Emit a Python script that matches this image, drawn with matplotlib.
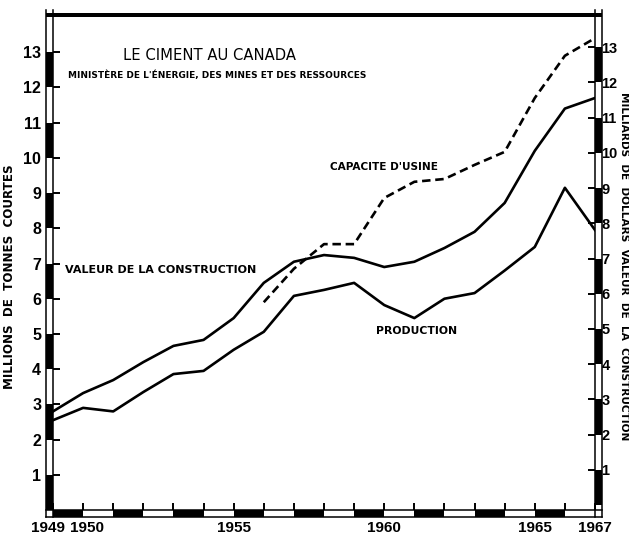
import matplotlib
matplotlib.use("Agg")
import matplotlib.pyplot as plt
import matplotlib.transforms as mtransforms
from matplotlib.patches import Rectangle

# Data
years = list(range(1949, 1968))
valeur_construction = [2.8, 3.32, 3.69, 4.2, 4.66, 4.83, 5.45, 6.45, 7.05, 7.24,
                       7.16, 6.9, 7.05, 7.44, 7.9, 8.72, 10.2, 11.4, 11.7]
production = [2.55, 2.9, 2.8, 3.35, 3.86, 3.95, 4.55, 5.06, 6.08, 6.25,
              6.45, 5.82, 5.45, 6.0, 6.16, 6.8, 7.47, 9.15, 7.95]
capacite_years = list(range(1956, 1968))
capacite = [5.9, 6.85, 7.55, 7.55, 8.86, 9.32, 9.4, 9.8, 10.17, 11.7, 12.9, 13.4]

xtick_years = [1949, 1950, 1955, 1960, 1965, 1967]
ytick_values = list(range(1, 14))

DIGITS = ["Liberation Sans", "DejaVu Sans"]
plt.rcParams["font.family"] = "DejaVu Sans"

fig = plt.figure(figsize=(6.29, 5.34), dpi=100)
ax = fig.add_axes([53 / 629, 24 / 534, 542 / 629, 493 / 534])
ax2 = ax.twinx()

ax.plot(years, valeur_construction, color="black", lw=1.9, solid_joinstyle="round")
ax.plot(years, production, color="black", lw=1.9, solid_joinstyle="round")
ax.plot(capacite_years, capacite, color="black", lw=1.9, dashes=(3.2, 1.8))

ax.set_xlim(1949, 1967)
ax.set_ylim(0, 14)
ax2.set_ylim(-0.14, 13.86)

for a in (ax, ax2):
    for s in a.spines.values():
        s.set_visible(False)

ax.set_xticks(xtick_years)
ax.set_xticklabels([str(y) for y in xtick_years], fontfamily=DIGITS, fontweight="bold", fontsize=11)
ax.set_xticks(years, minor=True)
ax.set_yticks(ytick_values)
ax.set_yticklabels([str(v) for v in ytick_values], fontfamily=DIGITS, fontweight="bold", fontsize=11.5)
ax2.set_yticks(ytick_values)
ax2.set_yticklabels([str(v) for v in ytick_values], fontfamily=DIGITS, fontweight="bold", fontsize=10.5)

ax.tick_params(axis="x", which="both", direction="in", length=5, width=1.4, pad=8, top=False)
ax.tick_params(axis="y", direction="in", length=5, width=1.4, pad=8.5)
ax2.tick_params(axis="y", direction="in", length=5, width=1.4, pad=4.5)

# squeeze the first two year labels apart
labs = ax.get_xticklabels()
labs[0].set_transform(labs[0].get_transform() + mtransforms.ScaledTranslation(-5 / 100, 0, fig.dpi_scale_trans))
labs[1].set_transform(labs[1].get_transform() + mtransforms.ScaledTranslation(4 / 100, 0, fig.dpi_scale_trans))

# checkered double-line frame
fw = 7 / 542   # frame width, axes fraction (x)
fh = 7 / 493   # frame height, axes fraction (y)
lw_f = 1.1

def vside(a, x0, x1, lo, hi):
    tr = mtransforms.blended_transform_factory(ax.transAxes, a.transData)
    for k in range(lo, hi):
        if k % 2 == 0:
            ax.add_patch(Rectangle((x0, k), x1 - x0, 1, transform=tr, color="black",
                                   clip_on=False, lw=0, zorder=5))
    tra = ax.transAxes
    for xx in (x0, x1):
        ax.plot([xx, xx], [-fh, 1 + fh], transform=tra, color="black", lw=lw_f, clip_on=False, zorder=5)

vside(ax, -fw, 0, 0, 13)
vside(ax2, 1, 1 + fw, -1, 13)

trx = mtransforms.blended_transform_factory(ax.transData, ax.transAxes)
for k in range(1949, 1967):
    if (k - 1949) % 2 == 0:
        ax.add_patch(Rectangle((k, -fh), 1, fh, transform=trx, color="black",
                               clip_on=False, lw=0, zorder=5))
for yy in (-fh, 0):
    ax.plot([-fw, 1 + fw], [yy, yy], transform=ax.transAxes, color="black", lw=lw_f, clip_on=False, zorder=5)
ax.add_patch(Rectangle((-fw, 1), 1 + 2 * fw, fh * 0.55, transform=ax.transAxes, color="black",
                       clip_on=False, lw=0, zorder=5))

# titles and series labels
ax.text(1954.21, 12.92, "LE CIMENT AU CANADA", ha="center", va="center", fontsize=10.6)
ax.text(1954.45, 12.35, "MINISTÈRE DE L'ÉNERGIE, DES MINES ET DES RESSOURCES",
        ha="center", va="center", fontsize=6.5, fontweight="bold")
ax.text(1959.98, 9.74, "CAPACITE D'USINE", ha="center", va="center", fontsize=7.6, fontweight="bold")
ax.text(1952.57, 6.82, "VALEUR DE LA CONSTRUCTION", ha="center", va="center", fontsize=8, fontweight="bold")
ax.text(1961.09, 5.08, "PRODUCTION", ha="center", va="center", fontsize=7.8, fontweight="bold")

fig.text(10 / 629, 1 - 277 / 534, "MILLIONS  DE  TONNES  COURTES", rotation=90,
         ha="center", va="center", fontsize=8.6, fontweight="bold")
fig.text(624 / 629, 1 - 266 / 534, "MILLIARDS  DE  DOLLARS  VALEUR  DE  LA  CONSTRUCTION", rotation=-90,
         ha="center", va="center", fontsize=7.6, fontweight="bold")

fig.savefig("out.png", dpi=100)
